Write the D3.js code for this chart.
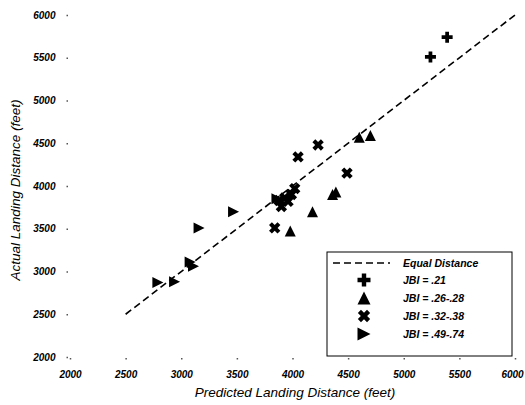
<!DOCTYPE html>
<html>
<head>
<meta charset="utf-8">
<script src="https://cdn.jsdelivr.net/npm/d3@7"></script>
<style>
  body { margin: 0; background: #fff; }
  svg text { font-family: Arial, "Liberation Sans", sans-serif; }
</style>
</head>
<body>
<svg id="chart"></svg>
<script>
// ========== DATA ==========
var xTicks = [2000, 2500, 3000, 3500, 4000, 4500, 5000, 5500, 6000];
var yTicks = [2000, 2500, 3000, 3500, 4000, 4500, 5000, 5500, 6000];
var equalLine = [[2500, 2500], [6000, 6000]];

var groupNames = ['JBI = .21', 'JBI = .26-.28', 'JBI = .32-.38', 'JBI = .49-.74'];
var groupShapes = ['plus', 'tri', 'cross', 'right'];

var jbi21 = [[5240, 5510], [5390, 5740]];
var jbi26 = [[4600, 4570], [4700, 4590], [4360, 3900], [4390, 3930], [4180, 3700], [3980, 3475]];
var jbi32 = [[4050, 4340], [4230, 4480], [4490, 4150], [4020, 3970], [3840, 3510],
             [3880, 3830], [3930, 3860], [3960, 3820], [3900, 3760], [3990, 3900]];
var jbi49 = [[2790, 2870], [2940, 2880], [3080, 3110], [3110, 3060], [3160, 3510], [3470, 3700], [3860, 3850]];
var groups = [jbi21, jbi26, jbi32, jbi49];

// ========== CHART ==========
var width = 525, height = 405;
var svg = d3.select('#chart').attr('width', width).attr('height', height);

var x = d3.scaleLinear().domain([2000, 6000]).range([70, 515]);
var y = d3.scaleLinear().domain([2000, 6000]).range([357, 15]);

// axes: only tick dots, no domain line
var xAxis = svg.append('g')
	.attr('transform', 'translate(0,' + 358 + ')')
	.call(d3.axisBottom(x).tickValues(xTicks).tickSize(1.5).tickPadding(11).tickFormat(d3.format('d')));
var yAxis = svg.append('g')
	.attr('transform', 'translate(' + 68 + ',0)')
	.call(d3.axisLeft(y).tickValues(yTicks).tickSize(1.5).tickPadding(11).tickFormat(d3.format('d')));

[xAxis, yAxis].forEach(function(a) {
	a.select('.domain').remove();
	a.selectAll('.tick line').attr('stroke', '#555').attr('stroke-width', 1.5);
	a.selectAll('.tick text')
		.attr('fill', '#000')
		.style('font-size', '10px')
		.style('font-weight', 'bold')
		.style('font-style', 'italic');
});
// keep the last x label inside the window
xAxis.selectAll('.tick text')
	.filter(function(d) { return d === 6000; })
	.attr('dx', -3);

// axis titles
svg.append('text')
	.attr('x', 295).attr('y', 397)
	.attr('text-anchor', 'middle')
	.style('font-size', '13.5px')
	.style('font-style', 'italic')
	.text('Predicted Landing Distance (feet)');
svg.append('text')
	.attr('transform', 'translate(20,190)rotate(-90)')
	.attr('text-anchor', 'middle')
	.style('font-size', '13.5px')
	.style('font-style', 'italic')
	.text('Actual Landing Distance (feet)');

// equal distance line
svg.append('path')
	.attr('d', d3.line().x(function(d) { return x(d[0]); }).y(function(d) { return y(d[1]); })(equalLine))
	.attr('fill', 'none')
	.attr('stroke', '#000')
	.attr('stroke-width', 1.6)
	.attr('stroke-dasharray', '7,4');

// marker shapes
function shapePath(type, s) {
	var h = s / 2;
	if (type === 'plus' || type === 'cross') {
		var t = s * 0.17;
		return 'M' + (-t) + ',' + (-h) + 'H' + t + 'V' + (-t) + 'H' + h + 'V' + t + 'H' + t + 'V' + h +
			'H' + (-t) + 'V' + t + 'H' + (-h) + 'V' + (-t) + 'H' + (-t) + 'Z';
	}
	if (type === 'tri') {
		return 'M0,' + (-h) + 'L' + h + ',' + h + 'L' + (-h) + ',' + h + 'Z';
	}
	// right-pointing triangle
	return 'M' + (-h) + ',' + (-h) + 'L' + h + ',0L' + (-h) + ',' + h + 'Z';
}

function drawMarker(g, type, cx, cy, s) {
	g.append('path')
		.attr('d', shapePath(type, s))
		.attr('transform', 'translate(' + cx + ',' + cy + ')' + (type === 'cross' ? 'rotate(45)' : ''))
		.attr('fill', '#000');
}

var pts = svg.append('g');
groups.forEach(function(data, i) {
	data.forEach(function(d) {
		drawMarker(pts, groupShapes[i], x(d[0]), y(d[1]), groupShapes[i] === 'cross' ? 12 : 11);
	});
});

// legend
var legend = svg.append('g');
legend.append('rect')
	.attr('x', 327).attr('y', 252)
	.attr('width', 185).attr('height', 104)
	.attr('fill', '#fff')
	.attr('stroke', '#000')
	.attr('stroke-width', 1);
legend.append('line')
	.attr('x1', 333).attr('x2', 390)
	.attr('y1', 263).attr('y2', 263)
	.attr('stroke', '#000')
	.attr('stroke-width', 1.3)
	.attr('stroke-dasharray', '7,4');
legend.append('text')
	.attr('x', 403).attr('y', 267)
	.style('font-size', '10.5px')
	.style('font-weight', 'bold')
	.style('font-style', 'italic')
	.text('Equal Distance');

var rowY = [280, 298, 316, 334];
groupNames.forEach(function(name, i) {
	drawMarker(legend, groupShapes[i], 364, rowY[i], 13);
	legend.append('text')
		.attr('x', 403).attr('y', rowY[i] + 4)
		.style('font-size', '10.5px')
		.style('font-weight', 'bold')
		.style('font-style', 'italic')
		.text(name);
});
</script>
</body>
</html>
